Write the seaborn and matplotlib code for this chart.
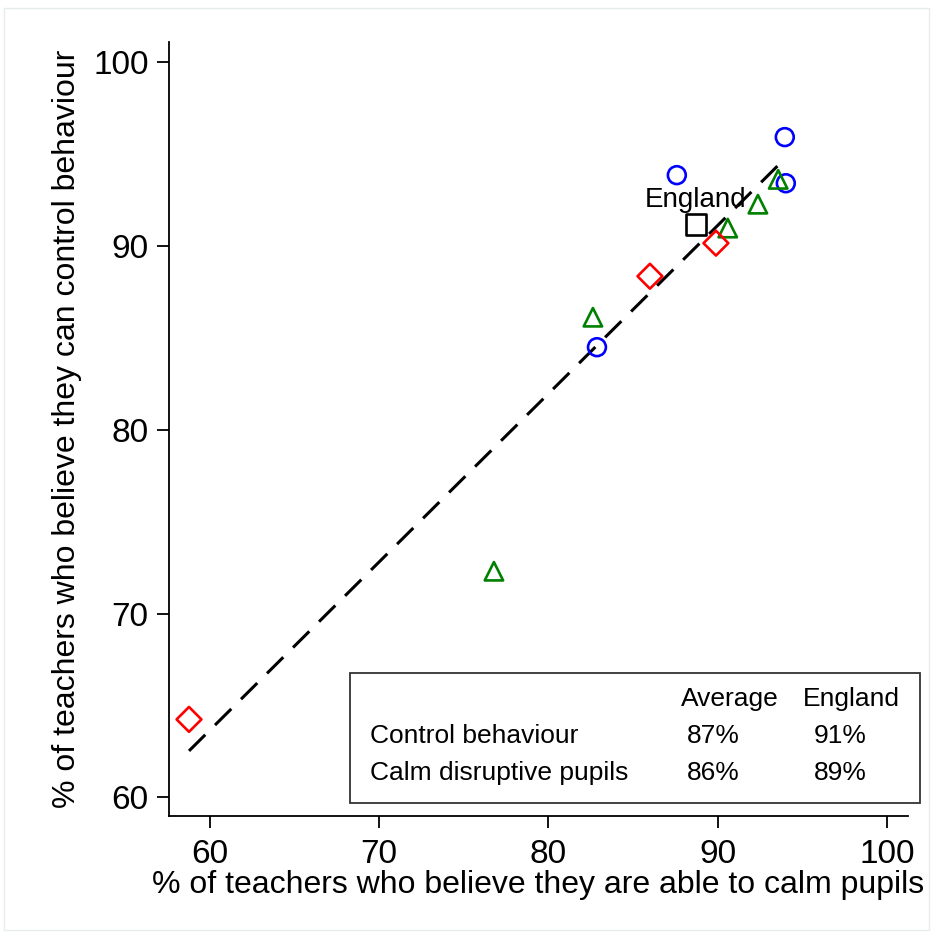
import numpy as np
import pandas as pd
import matplotlib
matplotlib.use("Agg")
import matplotlib.pyplot as plt
import seaborn as sns
from matplotlib.patches import Rectangle

# % able to calm pupils (x) vs % who can control behaviour (y)
circle_x = [93.97, 87.59, 94.03, 82.87]
circle_y = [95.92, 93.85, 93.41, 84.49]
triangle_x = [93.58, 92.38, 90.60, 82.63, 76.78]
triangle_y = [93.62, 92.27, 90.97, 86.12, 72.30]
diamond_x = [89.90, 86.00, 58.76]
diamond_y = [90.15, 88.35, 64.24]
england_x = [88.72]
england_y = [91.18]

# fitted line
fit_slope = 0.915
fit_intercept = 8.76

table_cols = ["Average", "England"]
table_rows = ["Control behaviour", "Calm disruptive pupils"]
table_vals = [["87%", "91%"], ["86%", "89%"]]

sns.set_style("ticks")
plt.rcParams["font.family"] = ["Liberation Sans", "DejaVu Sans"]
plt.rcParams["text.color"] = "black"
plt.rcParams["axes.labelcolor"] = "black"
plt.rcParams["xtick.color"] = "black"
plt.rcParams["ytick.color"] = "black"
plt.rcParams["axes.edgecolor"] = "black"

fig = plt.figure(figsize=(9.33, 9.35), dpi=100)
ax = fig.add_axes([0.181, 0.127, 0.792, 0.828])

all_x = circle_x + triangle_x + diamond_x
fit_df = pd.DataFrame({"x": [min(all_x), max(all_x)]})
fit_df["y"] = fit_intercept + fit_slope * fit_df["x"]
sns.lineplot(data=fit_df, x="x", y="y", ax=ax, color="black", lw=2.2)
ax.lines[-1].set_dashes((7.5, 4.5))

mk = dict(facecolors="none", linewidths=1.9, zorder=3)
ax.scatter(circle_x, circle_y, s=165, marker="o", edgecolors="blue", **mk)
ax.scatter(triangle_x, triangle_y, s=175, marker="^", edgecolors="green", **mk)
ax.scatter(diamond_x, diamond_y, s=160, marker="D", edgecolors="red", **mk)
ax.scatter(england_x, england_y, s=220, marker="s", edgecolors="black", **mk)
ax.text(england_x[0], england_y[0] + 0.6, "England", ha="center", va="bottom",
        fontsize=20)

ax.set_xlim(57.57, 101.24)
ax.set_ylim(58.97, 101.09)
ax.set_xticks([60, 70, 80, 90, 100])
ax.set_yticks([60, 70, 80, 90, 100])
ax.tick_params(labelsize=24, length=8.6, width=1.3)
ax.tick_params(axis="x", pad=8)
ax.tick_params(axis="y", pad=6)
sns.despine(ax=ax)
for s in ["left", "bottom"]:
    ax.spines[s].set_linewidth(1.3)
ax.set_xlabel("% of teachers who believe they are able to calm pupils",
              fontsize=23, labelpad=0)
ax.set_ylabel("% of teachers who believe they can control behaviour",
              fontsize=23, labelpad=8)

# summary box
box = Rectangle((350 / 933, 1 - 803 / 935), 570 / 933, 130 / 935,
                transform=fig.transFigure, fill=False, edgecolor="#333333",
                lw=1.3)
fig.patches.append(box)
col_x = [730, 851]
for cx, lab in zip(col_x, table_cols):
    fig.text(cx / 933, 1 - 699 / 935, lab, ha="center", va="center",
             fontsize=19)
for i, (lab, vals) in enumerate(zip(table_rows, table_vals)):
    yy = 1 - (736 + 37 * i) / 935
    fig.text(370 / 933, yy, lab, ha="left", va="center", fontsize=19)
    fig.text(713 / 933, yy, vals[0], ha="center", va="center", fontsize=19)
    fig.text(840 / 933, yy, vals[1], ha="center", va="center", fontsize=19)

frame = Rectangle((4 / 933, 1 - 930 / 935), 925 / 933, 922 / 935,
                  transform=fig.transFigure, fill=False, edgecolor="#e6ecee",
                  lw=1)
fig.patches.append(frame)

fig.savefig("out.png", dpi=100)
